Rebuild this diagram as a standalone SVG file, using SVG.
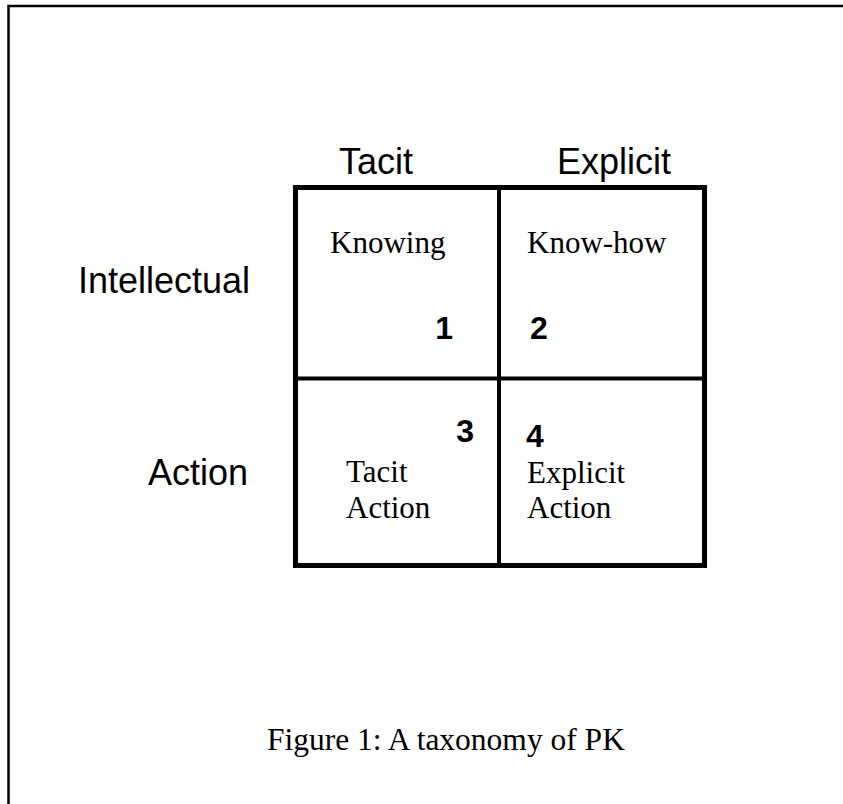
<svg xmlns="http://www.w3.org/2000/svg" width="843" height="804" viewBox="0 0 843 804">
<style>
.hdr{font-family:"Liberation Sans",Arial,sans-serif;font-size:36px;fill:#000}
.cell{font-family:"Liberation Serif","Times New Roman",serif;font-size:31px;fill:#000}
.num{font-family:"Liberation Sans",Arial,sans-serif;font-size:32px;font-weight:bold;fill:#000}
.cap{font-family:"Liberation Serif","Times New Roman",serif;font-size:31.5px;fill:#000}
</style>
<rect width="843" height="804" fill="#fff"/>
<path d="M8.5 804 V6 H843" fill="none" stroke="#000" stroke-width="2.5"/>
<g id="grid">
<rect x="295.5" y="187.5" width="409" height="378" fill="none" stroke="#000" stroke-width="5"/>
<line x1="499" y1="187" x2="499" y2="566" stroke="#000" stroke-width="4"/>
<line x1="295" y1="378.5" x2="705" y2="378.5" stroke="#000" stroke-width="4"/>
</g>
<g id="col-tacit"><text class="hdr" x="339" y="174">Tacit</text></g>
<g id="col-explicit"><text class="hdr" x="557" y="174">Explicit</text></g>
<g id="row-intellectual"><text class="hdr" x="78" y="293">Intellectual</text></g>
<g id="row-action"><text class="hdr" x="148" y="485">Action</text></g>
<g id="cell1"><text class="cell" x="330" y="253">Knowing</text><text class="num" x="453" y="339" text-anchor="end">1</text></g>
<g id="cell2"><text class="cell" x="527" y="253">Know-how</text><text class="num" x="530" y="339">2</text></g>
<g id="cell3"><text class="cell" x="346" y="482">Tacit</text><text class="cell" x="346" y="518">Action</text><text class="num" x="474" y="442" text-anchor="end">3</text></g>
<g id="cell4"><text class="num" x="526" y="447">4</text><text class="cell" x="527" y="483">Explicit</text><text class="cell" x="527" y="518">Action</text></g>
<g id="caption"><text class="cap" x="267" y="750">Figure 1: A taxonomy of PK</text></g>
</svg>
